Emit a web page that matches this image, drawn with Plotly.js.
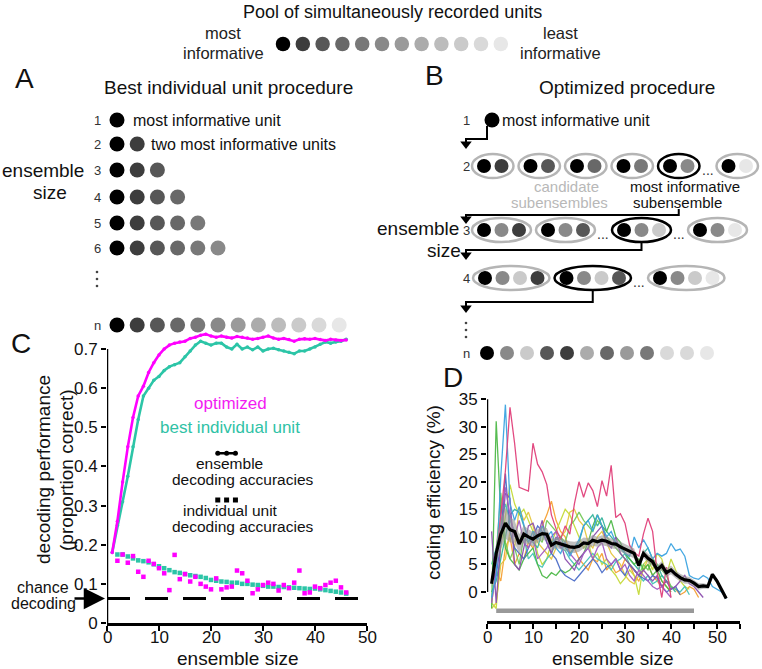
<!DOCTYPE html>
<html><head><meta charset="utf-8">
<script src="https://cdn.plot.ly/plotly-3.0.1.min.js"></script>
<style>html,body{margin:0;padding:0;background:#fff}#chart{width:762px;height:669px}</style>
</head><body><div id="chart"></div>
<script>
// ================= DATA =================
// Panel C: decoding performance vs ensemble size (ensemble sizes 1..46)
const optimizedAcc = [0.18,0.26,0.36,0.45,0.525,0.58,0.605,0.64,0.665,0.685,
  0.70,0.71,0.715,0.718,0.72,0.727,0.73,0.735,0.738,0.733,
  0.73,0.733,0.73,0.728,0.732,0.73,0.728,0.725,0.727,0.73,
  0.733,0.728,0.725,0.727,0.724,0.72,0.725,0.726,0.725,0.727,
  0.724,0.722,0.725,0.723,0.722,0.723];
const bestUnitAcc = [0.18,0.25,0.31,0.375,0.45,0.52,0.58,0.60,0.62,0.63,
  0.645,0.655,0.66,0.665,0.68,0.695,0.71,0.72,0.715,0.71,
  0.715,0.715,0.705,0.70,0.712,0.70,0.705,0.698,0.705,0.695,
  0.70,0.702,0.698,0.695,0.692,0.688,0.695,0.695,0.70,0.705,
  0.712,0.718,0.715,0.718,0.72,0.725];
// individual unit accuracies (units 2..46): sorted order (teal) and optimized order (magenta)
const unitAccSorted = [0.175,0.175,0.17,0.165,0.16,0.158,0.155,0.15,0.145,0.14,
  0.135,0.13,0.128,0.125,0.122,0.12,0.118,0.115,0.11,0.108,
  0.106,0.105,0.103,0.103,0.10,0.10,0.098,0.097,0.095,0.093,
  0.093,0.092,0.092,0.091,0.09,0.089,0.088,0.087,0.088,0.086,
  0.084,0.082,0.08,0.078,0.075];
const unitAccOptimized = [0.159,0.175,0.154,0.171,0.131,0.118,0.159,0.151,0.14,0.127,
  0.084,0.174,0.112,0.125,0.106,0.118,0.10,0.093,0.086,0.114,
  0.086,0.091,0.093,0.134,0.127,0.108,0.076,0.086,0.097,0.103,
  0.10,0.083,0.097,0.089,0.103,0.134,0.076,0.078,0.093,0.089,
  0.097,0.103,0.108,0.091,0.078];
const chanceLevel = 0.0625;
const yTicksC = [0,0.1,0.2,0.3,0.4,0.5,0.6,0.7];
const xTicksC = [0,10,20,30,40,50];

// Panel D: coding efficiency (%) vs ensemble size
const meanEff = [1.5,7,10.5,12.5,11.3,11,8.7,10.5,10,9.6,
  10.2,10.6,10.5,8.5,9,8.7,8.4,8.2,8.1,8.3,
  8.9,8.8,9.4,9.1,9.4,9.2,8.8,8.7,8.2,7.8,
  7.4,7.0,4.8,7.0,6.1,5.5,4.0,4.8,3.5,4.0,
  3.2,2.6,2.2,2.1,1.6,1.0,1.1,1.0,3.2,2.0,0.4,-1.2];
const semEff = [0.8,2,2.8,2.8,2.3,2,1.8,1.6,1.4,1.3,
  1.2,1.2,1.1,1.1,1,1,1,1,1,1,
  1,1,1,0.9,0.9,0.9,0.9,0.9,0.9,0.9,
  0.9,0.9,0.8,0.8,0.8,0.8,0.8,0.8,0.8,0.8,
  0.7,0.7,0.7,0.6,0.6,0.6,0.5,0.4,0.3,0.2,0.1,0];
const effS1 = [null,6,14,22,33.5,27,19,18.7,18.3,27,23.2,21.8,19.5,14,11.5,9.5,12,10.5,16,20,17.2,19.8,18.4,15.5,20.2,17.4,23,13.5,14.2,12.5,8.5,7.2,6.5,10.5,13.4,11,3.5,-1,4.5,-1];
const effS2 = [-1,3,21,34,16,13,15.5,12,9,11,9.5,12,10,11,8,7,9,6.5,8,9.5,12,13,11,14,12,10,11,9,8,7,6.5,10,8,9.5,8,6,7,6.5,7,8.8,7.5,7.8,6.5,3,2.5,2.3,3,2.5,1,0.5,0,-1.2];
const effS3 = [-3,31,14,8,6,5,4,6,7,8,5,3,2.5,3.5,3,4,3.5,4,5,6,7,9,12,14,12,11,13,10,9,7,6,5,6,4,5,3,4,2,1,0];
const effS4 = [-2,-3,8,14,19.5,16,14,15,13,11,7,5,6,9,11,13,15,14,12,10,8,9,6,7,5,6,4,3,1.5,2.5,4,3,-0.5,5,6,4,7,6,3,6,4,2,1,0.5];
const effS5 = [-2,4,2,8,10,5,7,6,9,8,10,12,14,16.5,13,11,10,7,8,6,5,4,6,5.5,7,4,5,3.5,4,6,5,3,2,4,5,3,2,1,2,1,0.5,-0.5,0,1,0.5,-1];
const effS6 = [11,-2,9,18,17,5,4,8,12,12.5,10,13,9,7,10,9,6,5,4,6,7,8,10,11,12,9,8,10,7,6,5,4,3,4,3,2,3,1,2,0.5,1,2,3,1.5,1,0,-1];
const effS7 = [5,8,12,16,13,11,9,10,6,7,5,4.5,6,7,9,8,7.5,6,5,4,5,6,7,6,5.5,5,4,5.5,6,7,5,4,3,2,3,1.5,2,3,2,1,0.5,0,1,-0.5];
const effS8 = [2,3,9,21.5,11,8,7,6,8,10,12,11,9,7,6,4,3,2.5,2,3,4,5,6,5,3.5,4.5,5,6,4,3,5,4,3,2.5,2,3,2.5,1,0,0.5,1,-0.5];
const effS9 = [2,7,18,9,6,8,5,10,9,11,10,9,13,12,11,10,9,12,13,14.5,13,12,11,13,12,10,9,8,7,6,5,4,3,5,4,6,5,4,3,1,0.5];
const effS10 = [-3,-2,5,6,11,8,15.3,13,14.5,12,9,8,7,6,8,10,11,14.5,15,13,12,9,8,10,11,9,7,6,5,3,2,1.5,3,4,6,5,4,2,1,0];
const effS11 = [0,2,6,10,14,15,14.5,12,10,9,8,11,10,9,9.5,10,8,7,8,9,12,13,14,12,13.5,11,10,9,8,7,6,5,4,7,8,6,5,3,2,1,0];
const effS12 = [-2,4,14,19,14,10,13,9,8,10,6,7,8,10,11,8,9,7,6,5,7,8,6,8,9,6,5,6,4,5,3,2,4,3,2,1,0.5,1,0,-1];
const sessionSeries = [effS5,effS10,effS4,effS7,effS11,effS9,effS3,effS8,effS6,effS12,effS2,effS1];
const sessionColors = ['#f5a033','#e6c63f','#c5da3a','#45c3b6','#36b49c','#74c95a','#4db848','#4a6bc7','#8c4fae','#a35bc2','#3ba3e0','#e0407a'];
const sigRange = [2,45];
const yTicksD = [0,5,10,15,20,25,30,35];
const xTicksD = [0,5,10,15,20,25,30,35,40,45,50,55];
const xTickTextD = ['0','','10','','20','','30','','40','','50',''];

// Schematic (panels A, B): unit shades ranked by informativeness, and ensembles as shade indices
const unitShades = ['#000000','#3d3d3d','#575757','#686868','#787878','#898989','#9a9a9a','#ababab','#bcbcbc','#cacaca','#d9d9d9','#e7e7e7'];
const rowLabelsA = ['1','2','3','4','5','6','n'];
const rowSizesA = [1,2,3,4,5,6,12];
const candidatesB2 = [[0,1],[0,2],[0,3],[0,4],[0,5],[0,11]];
const slotsB2 = ['e','e','e','e','E','…','e'];
const candidatesB3 = [[0,5,1],[0,5,2],[0,5,9],[0,5,11]];
const slotsB3 = ['e','e','…','E','…','e'];
const candidatesB4 = [[0,5,9,1],[0,5,9,2],[0,5,9,11]];
const slotsB4 = ['e','E','…','e'];
const finalOrderB = [0,5,9,2,1,7,3,6,4,10,10,11];

// ================= DRAWING =================
const FONT = 'Liberation Sans, Arial, sans-serif';
const traces = [], shapes = [], ann = [];
const idx = (arr, start) => arr.map((_, i) => i + start);

function txt(x, y, text, opt) {
  const o = Object.assign({size:16, color:'#111', xanchor:'center', angle:0, xref:'x3'}, opt || {});
  ann.push({xref:o.xref, yref:'y3', x, y, text, showarrow:false, xanchor:o.xanchor, yanchor:'middle',
    textangle:o.angle, borderpad:0, font:{family:FONT, size:o.size, color:o.color}});
}
function dots(xs, ys, colors, size) {
  traces.push({type:'scatter', mode:'markers', x:xs, y:ys, xaxis:'x3', yaxis:'y3', cliponaxis:false,
    marker:{color:colors, size:size, line:{width:0}}, hoverinfo:'skip', showlegend:false});
}
function vdots(x, y0) { dots([x,x,x],[y0,y0+7,y0+14],'#444',2.6); }

// --- pool row ---
txt(392, 12, 'Pool of simultaneously recorded units', {size:18});
dots(unitShades.map((_, i) => 283 + i*19.8), unitShades.map(() => 44), unitShades, 14.5);
txt(223, 33, 'most', {size:16.5, color:'#222'});
txt(223, 53, 'informative', {size:16.5, color:'#222'});
txt(560, 33, 'least', {size:16.5, color:'#222'});
txt(560, 53, 'informative', {size:16.5, color:'#222'});

// --- Panel A ---
txt(24, 78, 'A', {size:28});
txt(228, 87, 'Best individual unit procedure', {size:19});
const rowYA = [120,144,170,197,223,248,325];
rowSizesA.forEach((n, r) => {
  const sh = unitShades.slice(0, n);
  dots(sh.map((_, i) => 117 + i*20.2), sh.map(() => rowYA[r]), sh, 15);
  txt(97, rowYA[r], rowLabelsA[r], {size:13, color:'#333'});
});
vdots(97, 272);
txt(132, 120, 'most informative unit', {xanchor:'left', size:16});
txt(150, 144, 'two most informative units', {xanchor:'left', size:16});
txt(43, 170, 'ensemble', {size:19});
txt(50, 192, 'size', {size:19});

// --- Panel B ---
txt(434, 75, 'B', {size:28});
txt(627, 87, 'Optimized procedure', {size:19});
const labelXB = 466;
function ensembleRow(slots, groups, y, xStart) {
  let x = xStart, gi = 0, chosen = null;
  const xs = [], ys = [], cs = [];
  slots.forEach(s => {
    if (s === '…') { txt(x + 3, y + 4, '...', {size:14, color:'#333'}); x += 12; return; }
    const g = groups[gi++], n = g.length, step = 17.5, w = (n-1)*step + 24, cx = x + w/2;
    shapes.push({type:'circle', xref:'x3', yref:'y3', x0:x, x1:x+w, y0:y-12, y1:y+12,
      line:{color: s === 'E' ? '#000' : '#b5b5b5', width:2.5}});
    g.forEach((ci, k) => { xs.push(cx + (k - (n-1)/2)*step); ys.push(y); cs.push(unitShades[ci]); });
    if (s === 'E') chosen = cx;
    x += w + 5;
  });
  dots(xs, ys, cs, 14);
  return chosen;
}
function elbow(xFrom, yTop, yH, yTip) {
  shapes.push({type:'path', xref:'x3', yref:'y3', path:`M ${xFrom} ${yTop} V ${yH} H ${labelXB} V ${yTip-6}`,
    line:{color:'#000', width:2}});
  traces.push({type:'scatter', mode:'markers', x:[labelXB], y:[yTip-4], xaxis:'x3', yaxis:'y3', cliponaxis:false,
    marker:{symbol:'triangle-down', size:10, color:'#000'}, hoverinfo:'skip', showlegend:false});
}
txt(labelXB, 120, '1', {size:13, color:'#333'});
dots([492], [120], [unitShades[0]], 15);
txt(501, 120, 'most informative unit', {xanchor:'left', size:16});
elbow(487, 126, 139, 148);
txt(labelXB, 166, '2', {size:13, color:'#333'});
const c2 = ensembleRow(slotsB2, candidatesB2, 166, 472);
txt(566, 186, 'candidate', {size:15, color:'#b8b8b8'});
txt(559, 202, 'subensembles', {size:15, color:'#b8b8b8'});
txt(685, 186, 'most informative', {size:15});
txt(677, 202, 'subensemble', {size:15});
elbow(c2, 209, 215, 223);
txt(labelXB, 230, '3', {size:13, color:'#333'});
const c3 = ensembleRow(slotsB3, candidatesB3, 230, 472);
txt(460, 228, 'ensemble', {size:19, xanchor:'right'});
txt(444, 250, 'size', {size:19});
elbow(c3, 242, 250, 259);
txt(labelXB, 278, '4', {size:13, color:'#333'});
const c4 = ensembleRow(slotsB4, candidatesB4, 278, 473);
elbow(c4, 290, 302, 312);
vdots(labelXB, 323);
txt(labelXB, 353, 'n', {size:13, color:'#333'});
dots(finalOrderB.map((_, i) => 487 + i*20), finalOrderB.map(() => 353), finalOrderB.map(c => unitShades[c]), 14);

// --- Panel C traces ---
const MAG = '#ff00ff', TEAL = '#2cc5a7';
traces.push({type:'scatter', mode:'lines', x:[0,48.3], y:[chanceLevel,chanceLevel], xaxis:'x', yaxis:'y',
  line:{color:'#000', width:3, dash:'23px,15px'}, hoverinfo:'skip', showlegend:false});
traces.push({type:'scatter', mode:'markers', x:idx(unitAccSorted,2), y:unitAccSorted, xaxis:'x', yaxis:'y',
  marker:{symbol:'square', size:4.5, color:TEAL}, showlegend:false});
traces.push({type:'scatter', mode:'markers', x:idx(unitAccOptimized,2), y:unitAccOptimized, xaxis:'x', yaxis:'y',
  marker:{symbol:'square', size:4.5, color:MAG}, showlegend:false});
traces.push({type:'scatter', mode:'lines+markers', x:idx(bestUnitAcc,1), y:bestUnitAcc, xaxis:'x', yaxis:'y',
  line:{color:TEAL, width:2.6}, marker:{size:3.5, color:TEAL}, showlegend:false});
traces.push({type:'scatter', mode:'lines+markers', x:idx(optimizedAcc,1), y:optimizedAcc, xaxis:'x', yaxis:'y',
  line:{color:MAG, width:2.6}, marker:{size:3.5, color:MAG}, showlegend:false});
// key glyphs
const keyX = [21.3, 23, 24.7];
traces.push({type:'scatter', mode:'lines+markers', x:keyX, y:keyX.map(() => 0.434), xaxis:'x', yaxis:'y',
  line:{color:'#000', width:2.5}, marker:{size:5, color:'#000'}, showlegend:false});
traces.push({type:'scatter', mode:'markers', x:keyX, y:keyX.map(() => 0.314), xaxis:'x', yaxis:'y',
  marker:{symbol:'square', size:5, color:'#000'}, showlegend:false});
shapes.push({type:'line', xref:'x', yref:'y', x0:0, x1:0, y0:0, y1:0.7, line:{color:'#000', width:2.5}});
xTicksC.forEach(v => txt(v, 637, String(v), {xref:'x', size:17}));

txt(21, 343, 'C', {size:28});
txt(230, 403, 'optimized', {size:17, color:'#f21cf2'});
txt(230, 427, 'best individual unit', {size:17, color:'#2fc2a6'});
txt(229, 463, 'ensemble', {size:15.5});
txt(243, 479, 'decoding accuracies', {size:15.5});
txt(230, 510, 'individual unit', {size:15.5});
txt(243, 526, 'decoding accuracies', {size:15.5});
txt(43, 470, 'decoding performance', {size:19, angle:-90});
txt(66, 470, '(proportion correct)', {size:19, angle:-90});
txt(237, 658, 'ensemble size', {size:19});
txt(43, 587, 'chance', {size:16});
txt(43, 603, 'decoding', {size:16});
ann.push({xref:'x', yref:'y', x:0, y:chanceLevel, ax:-34, ay:0, axref:'pixel', ayref:'pixel', text:'', showarrow:true,
  arrowhead:2, arrowsize:1.7, arrowwidth:2.5, arrowcolor:'#000', standoff:2});

// --- Panel D traces ---
const xD = idx(meanEff, 1);
sessionSeries.forEach((s, k) => {
  traces.push({type:'scatter', mode:'lines', x:idx(s,1), y:s, xaxis:'x2', yaxis:'y2', connectgaps:false,
    line:{color:sessionColors[k], width:1.3}, opacity:0.95, showlegend:false});
});
traces.push({type:'scatter', mode:'lines', x:xD, y:meanEff.map((m, i) => m + semEff[i]), xaxis:'x2', yaxis:'y2',
  line:{width:0, color:'rgba(0,0,0,0)'}, showlegend:false, hoverinfo:'skip'});
traces.push({type:'scatter', mode:'lines', x:xD, y:meanEff.map((m, i) => m - semEff[i]), xaxis:'x2', yaxis:'y2',
  fill:'tonexty', fillcolor:'rgba(150,150,150,0.6)', line:{width:0, color:'rgba(0,0,0,0)'}, hoverinfo:'skip', showlegend:false});
traces.push({type:'scatter', mode:'lines', x:xD, y:meanEff, xaxis:'x2', yaxis:'y2',
  line:{color:'#000', width:3.2}, showlegend:false});
traces.push({type:'scatter', mode:'lines', x:sigRange, y:[-3.4,-3.4], xaxis:'x2', yaxis:'y2',
  line:{color:'#999', width:4.5}, hoverinfo:'skip', showlegend:false});
shapes.push({type:'line', xref:'x2', yref:'y2', x0:0, x1:0, y0:0, y1:35, line:{color:'#000', width:2.5}});
xTicksD.forEach((v, i) => { if (xTickTextD[i]) txt(v, 637, xTickTextD[i], {xref:'x2', size:17}); });
txt(453, 377, 'D', {size:28});
txt(433, 493, 'coding efficiency (%)', {size:19, angle:-90});
txt(612, 658, 'ensemble size', {size:19});

// ================= LAYOUT =================
const W = 762, H = 669;
const tickFont = {family:FONT, size:17, color:'#111'};
const axBase = {showgrid:false, zeroline:false, ticks:'outside', ticklen:5, tickwidth:2, tickcolor:'#000',
  tickfont:tickFont, fixedrange:true};
const layout = {
  width:W, height:H, margin:{l:0, r:0, t:0, b:0}, paper_bgcolor:'#fff', plot_bgcolor:'rgba(0,0,0,0)',
  showlegend:false, font:{family:FONT},
  xaxis: Object.assign({}, axBase, {domain:[107/W, 367/W], range:[0,50], tickvals:xTicksC, showticklabels:false,
    showline:true, linewidth:2.5, linecolor:'#000', anchor:'y'}),
  yaxis: Object.assign({}, axBase, {domain:[1-623/H, 1-331.4/H], range:[0,0.745], tickvals:yTicksC,
    showline:false, anchor:'x'}),
  xaxis2: Object.assign({}, axBase, {domain:[487/W, 740/W], range:[0,55], tickvals:xTicksD, showticklabels:false,
    showline:true, linewidth:2.5, linecolor:'#000', anchor:'y2'}),
  yaxis2: Object.assign({}, axBase, {domain:[1-621.2/H, 1-396.4/H], range:[-5.3,35.5], tickvals:yTicksD,
    showline:false, anchor:'x2'}),
  xaxis3: {domain:[0,1], range:[0,W], visible:false, fixedrange:true, anchor:'y3'},
  yaxis3: {domain:[0,1], range:[H,0], visible:false, fixedrange:true, anchor:'x3'},
  shapes, annotations: ann
};
Plotly.newPlot('chart', traces, layout, {displayModeBar:false, staticPlot:true});
</script>
</body></html>
